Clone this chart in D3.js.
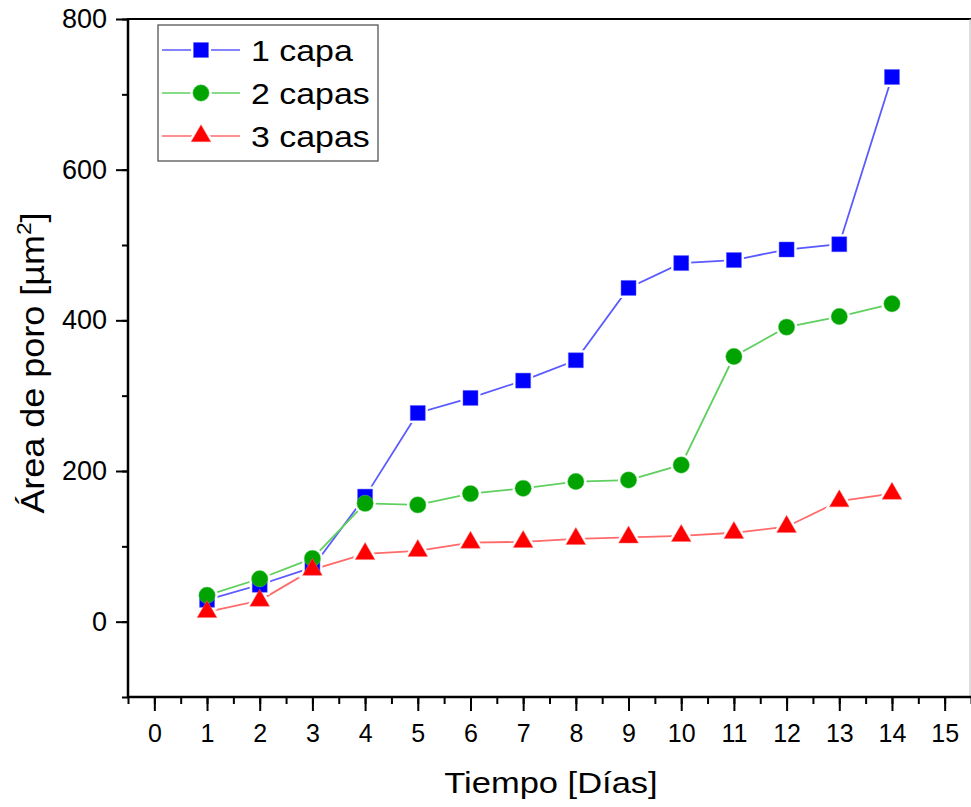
<!DOCTYPE html>
<html>
<head>
<meta charset="utf-8">
<script src="https://cdn.jsdelivr.net/npm/d3@7"></script>
<style>
  html, body { margin: 0; padding: 0; background: #fff; }
  svg { display: block; }
  text { font-family: "Liberation Sans", Arial, sans-serif; fill: #000; }
</style>
</head>
<body>
<div id="chart"></div>
<script>
const days = [1, 2, 3, 4, 5, 6, 7, 8, 9, 10, 11, 12, 13, 14];
const capa1 = [29, 49, 72, 166, 277, 297, 320, 347, 443, 476, 480, 494, 501, 723];
const capa2 = [35, 57, 84, 157, 155, 170, 177, 186, 188, 208, 352, 391, 405, 422];
const capa3 = [13, 28, 69, 90, 94, 105, 106, 110, 112, 114, 118, 126, 160, 170];
const seriesNames = ["1 capa", "2 capas", "3 capas"];
const xTicks = [0, 1, 2, 3, 4, 5, 6, 7, 8, 9, 10, 11, 12, 13, 14, 15];
const yTicks = [0, 200, 400, 600, 800];

(function () {
const W = 971, H = 807;
const pLeft = 128, pRight = 970, pTop = 19, pBottom = 697;

const series = [
  { name: seriesNames[0], values: capa1, fill: "#0000ff", line: "#5a5aff", shape: "square" },
  { name: seriesNames[1], values: capa2, fill: "#00a300", line: "#5fd05f", shape: "circle" },
  { name: seriesNames[2], values: capa3, fill: "#ff0000", line: "#ff6a6a", shape: "triangle" }
];

const svg = d3.select("#chart").append("svg").attr("width", W).attr("height", H);

const x = d3.scaleLinear().domain([-0.5, 15.5]).range([pLeft, pRight + 1]);
const y = d3.scaleLinear().domain([-100, 800]).range([pBottom, pTop]);

// frame: top and right
svg.append("line").attr("x1", pLeft).attr("x2", W).attr("y1", pTop).attr("y2", pTop)
  .attr("stroke", "#000").attr("stroke-width", 2.2);
svg.append("line").attr("x1", pRight).attr("x2", pRight).attr("y1", pTop).attr("y2", pBottom)
  .attr("stroke", "#bbb").attr("stroke-width", 1);

// x axis
const xMinor = d3.range(-0.5, 15.51, 0.5);
const xAxisMinor = d3.axisBottom(x).tickValues(xMinor).tickSize(7).tickFormat("");
const gxm = svg.append("g").attr("transform", `translate(0,${pBottom})`).call(xAxisMinor);
gxm.select(".domain").remove();
gxm.selectAll("line").attr("stroke", "#000").attr("stroke-width", 2);

const xAxis = d3.axisBottom(x).tickValues(xTicks).tickSize(14).tickPadding(13).tickFormat(d3.format("d"));
const gx = svg.append("g").attr("transform", `translate(0,${pBottom})`).call(xAxis);
gx.select(".domain").remove();
gx.selectAll("line").attr("stroke", "#000").attr("stroke-width", 2);
gx.selectAll("text").attr("font-size", 25).attr("font-family", "Liberation Sans, Arial, sans-serif").attr("fill", "#000");
svg.append("line").attr("x1", pLeft - 1).attr("x2", W).attr("y1", pBottom).attr("y2", pBottom)
  .attr("stroke", "#000").attr("stroke-width", 2.5);

// y axis
const yMinor = d3.range(-100, 801, 100);
const yAxisMinor = d3.axisLeft(y).tickValues(yMinor).tickSize(6).tickFormat("");
const gym = svg.append("g").attr("transform", `translate(${pLeft},0)`).call(yAxisMinor);
gym.select(".domain").remove();
gym.selectAll("line").attr("stroke", "#000").attr("stroke-width", 2);

const yAxis = d3.axisLeft(y).tickValues(yTicks).tickSize(12).tickPadding(9).tickFormat(d3.format("d"));
const gy = svg.append("g").attr("transform", `translate(${pLeft},0)`).call(yAxis);
gy.select(".domain").remove();
gy.selectAll("line").attr("stroke", "#000").attr("stroke-width", 2);
gy.selectAll("text").attr("font-size", 27).attr("font-family", "Liberation Sans, Arial, sans-serif").attr("fill", "#000");
svg.append("line").attr("x1", pLeft).attr("x2", pLeft).attr("y1", pTop - 1).attr("y2", pBottom + 1)
  .attr("stroke", "#000").attr("stroke-width", 2.5);

// axis titles
svg.append("text").attr("transform", `translate(551,793) scale(1.15,1)`)
  .attr("text-anchor", "middle").attr("font-size", 30).text("Tiempo [Días]");
const yt = svg.append("text").attr("transform", `translate(44,363) rotate(-90) scale(1.09,1)`)
  .attr("text-anchor", "middle").attr("font-size", 33);
yt.append("tspan").text("Área de poro [µm");
yt.append("tspan").attr("font-size", 21).attr("dy", -13).text("2");
yt.append("tspan").attr("dy", 13).text("]");

// marker paths
const sym = {
  square: d3.symbol().type(d3.symbolSquare).size(15 * 15),
  circle: d3.symbol().type(d3.symbolCircle).size(Math.PI * 8.2 * 8.2),
  triangle: d3.symbol().type(d3.symbolTriangle).size(168)
};
function drawHalo(g, s, cx, cy) {
  g.append("path").attr("d", sym[s.shape]()).attr("transform", `translate(${cx},${cy})`)
    .attr("fill", "#fff").attr("stroke", "#fff").attr("stroke-width", 5);
}
function drawMarker(g, s, cx, cy) {
  g.append("path").attr("d", sym[s.shape]()).attr("transform", `translate(${cx},${cy})`)
    .attr("fill", s.fill).attr("stroke", s.line).attr("stroke-width", 0.8).attr("stroke-opacity", 0.6);
}

const lineGen = d3.line().x(d => x(d[0])).y(d => y(d[1]));
const plot = svg.append("g");
series.forEach(s => {
  const pts = days.map((d, i) => [d, s.values[i]]);
  plot.append("path").datum(pts).attr("d", lineGen)
    .attr("fill", "none").attr("stroke", s.line).attr("stroke-width", 1.8);
});
const halos = plot.append("g");
const marks = plot.append("g");
series.forEach(s => {
  days.forEach((d, i) => {
    drawHalo(halos, s, x(d), y(s.values[i]));
    drawMarker(marks, s, x(d), y(s.values[i]));
  });
});

// legend
const lg = svg.append("g");
lg.append("rect").attr("x", 158).attr("y", 25).attr("width", 220).attr("height", 136)
  .attr("fill", "#fff").attr("stroke", "#555").attr("stroke-width", 1.3);
const rowY = [50, 93, 136];
series.forEach((s, i) => {
  lg.append("line").attr("x1", 162).attr("x2", 240).attr("y1", rowY[i]).attr("y2", rowY[i])
    .attr("stroke", s.line).attr("stroke-width", 1.6);
  drawHalo(lg, s, 201, rowY[i]);
  drawMarker(lg, s, 201, rowY[i]);
  lg.append("text").attr("transform", `translate(251,${rowY[i] + 11}) scale(1.13,1)`)
    .attr("font-size", 30).text(s.name);
});
})();
</script>
</body>
</html>
